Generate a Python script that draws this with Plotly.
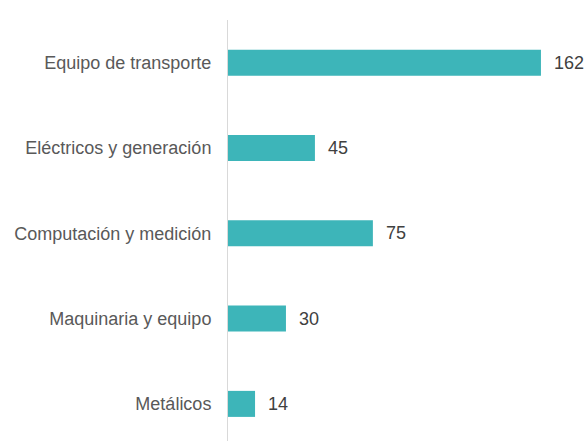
import plotly.graph_objects as go

categories = ["Equipo de transporte", "Eléctricos y generación", "Computación y medición",
              "Maquinaria y equipo", "Metálicos"]
values = [162, 45, 75, 30, 14]

fig = go.Figure(go.Bar(
    x=values, y=categories, orientation="h",
    marker=dict(color="#3db5b9", line=dict(width=0)),
    text=values, texttemplate="\u00a0\u00a0%{x}", textposition="outside",
    textfont=dict(family="Liberation Sans, Arial, sans-serif", size=18, color="#404040"),
    cliponaxis=False,
    hoverinfo="skip",
))

fig.update_layout(
    width=585, height=441,
    margin=dict(l=228, r=0, t=20, b=0),
    paper_bgcolor="white", plot_bgcolor="white",
    bargap=0.695,
    showlegend=False,
    font=dict(family="Liberation Sans, Arial, sans-serif", size=18, color="#595959"),
    xaxis=dict(range=[0, 184.8], visible=False, showgrid=False, zeroline=False),
    yaxis=dict(type="category", categoryorder="array", categoryarray=categories,
               range=[4.435, -0.5], showline=True, linecolor="#d9d9d9", linewidth=1,
               showgrid=False, ticks="", ticklabelstandoff=12,
               tickfont=dict(size=18, color="#595959")),
)

fig.write_html("out.html",
               config={"displayModeBar": False},
               post_script="document.body.style.margin='0';document.body.style.overflow='hidden';")
